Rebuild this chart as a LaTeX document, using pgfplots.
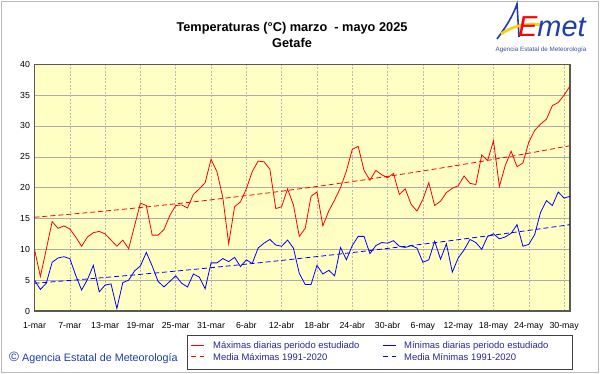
\documentclass[border=0pt]{standalone}
\usepackage{fontspec}
\setmainfont{Liberation Sans}
\newfontfamily\legfont[Color=282896]{Liberation Sans}
\usepackage{pgfplots}
\usepackage{pgfplotstable}
\pgfplotsset{compat=1.18}
\definecolor{bgyel}{RGB}{255,255,196}
\definecolor{aeblue}{RGB}{30,60,170}
\definecolor{aeyel}{RGB}{250,210,20}

\pgfplotstableread{
d tmax tmin
0 10.0 5.0
1 5.6 3.5
2 10.0 4.5
3 14.5 7.9
4 13.4 8.6
5 13.8 8.8
6 13.3 8.5
7 12.0 5.8
8 10.5 3.4
9 12.0 5.1
10 12.7 7.4
11 12.9 3.1
12 12.5 4.2
13 11.5 4.4
14 10.5 0.4
15 11.5 4.6
16 10.1 5.0
17 13.8 6.5
18 17.5 7.3
19 17.1 9.5
20 12.3 7.3
21 12.3 4.8
22 13.2 3.9
23 15.5 4.8
24 17.1 5.7
25 17.2 4.5
26 16.7 3.9
27 18.9 6.0
28 19.8 5.5
29 20.8 3.6
30 24.6 7.8
31 22.6 7.8
32 18.4 8.5
33 10.9 8.0
34 16.9 8.7
35 17.7 7.2
36 19.8 8.3
37 22.6 7.7
38 24.3 10.2
39 24.2 11.0
40 23.0 11.6
41 16.6 10.7
42 16.9 10.5
43 19.8 11.5
44 17.2 10.2
45 12.1 6.1
46 13.4 4.3
47 18.6 4.3
48 19.3 7.4
49 13.8 6.0
50 16.2 6.6
51 18.0 5.7
52 20.0 10.3
53 22.7 8.3
54 26.2 10.6
55 26.7 12.1
56 22.8 12.1
57 21.2 9.3
58 22.8 10.6
59 22.1 11.1
60 21.6 11.0
61 22.3 11.4
62 18.9 10.5
63 19.8 10.3
64 17.3 10.6
65 16.2 10.2
66 18.1 7.9
67 20.8 8.3
68 17.1 11.3
69 17.8 8.4
70 19.2 10.9
71 19.9 6.3
72 20.3 8.6
73 21.9 9.9
74 20.7 11.6
75 20.5 11.1
76 25.3 10.0
77 24.4 12.1
78 27.6 12.5
79 20.2 11.7
80 23.6 12.0
81 25.9 12.6
82 23.4 14.0
83 24.0 10.5
84 27.4 10.8
85 29.3 12.4
86 30.3 16.0
87 31.1 17.9
88 33.3 17.1
89 33.8 19.3
90 35.0 18.3
91 36.5 18.6
}\daily

\pgfplotstableread{
d nmax nmin
0 15.20 4.50
7 15.77 5.03
14 16.39 5.60
21 17.07 6.20
28 17.80 6.83
35 18.59 7.50
42 19.42 8.20
49 20.32 8.93
56 21.26 9.69
63 22.26 10.49
70 23.32 11.32
77 24.42 12.18
84 25.58 13.07
91 26.80 14.00
}\normals

\begin{document}
\begin{tikzpicture}
\fill[white] (0bp,0bp) rectangle (601bp,374bp);
\draw[gray!55, line width=1.2bp] (1.5bp,1.5bp) rectangle (598.5bp,372.5bp);
\begin{axis}[
  at={(34.5bp,63bp)}, anchor=south west,
  width=535.5bp, height=246.7bp, scale only axis,
  xmin=0, xmax=91, ymin=0, ymax=40,
  xtick={0,6,...,90},
  xticklabels={1-mar,7-mar,13-mar,19-mar,25-mar,31-mar,6-abr,12-abr,18-abr,24-abr,30-abr,6-may,12-may,18-may,24-may,30-may},
  ytick={0,5,...,40},
  grid=major,
  x grid style={gray!55, dash pattern=on 2bp off 1.5bp, line width=0.6bp},
  y grid style={gray!65, line width=0.6bp},
  axis background/.style={fill=bgyel},
  axis line style={draw=black!65, line width=1.2bp},
  major tick length=0pt,
  tick label style={font=\fontsize{8.8}{10}\selectfont},
  /pgf/number format/assume math mode=true,
  xticklabel style={yshift=-7.5bp},
  yticklabel style={xshift=-1bp},
]
\addplot[draw=red, line width=0.8bp] table[x=d,y=tmax]{\daily};
\addplot[draw=blue, line width=0.8bp] table[x=d,y=tmin]{\daily};
\addplot[draw=red, line width=0.8bp, dash pattern=on 5bp off 3bp] table[x=d,y=nmax]{\normals};
\addplot[draw=blue, line width=0.8bp, dash pattern=on 5bp off 3bp] table[x=d,y=nmin]{\normals};
\end{axis}
% legend (drawn as a box below the axis)
\draw[black!75, line width=0.6bp] (187bp,5bp) rectangle (572bp,39bp);
\draw[red, line width=1bp] (191bp,28bp) -- (204bp,28bp);
\draw[blue, line width=1bp] (383bp,28bp) -- (396bp,28bp);
\draw[red, line width=1bp, dash pattern=on 4.5bp off 4bp] (191bp,17bp) -- (204bp,17bp);
\draw[blue, line width=1bp, dash pattern=on 4.5bp off 4bp] (383bp,17bp) -- (396bp,17bp);
\node[anchor=west, inner sep=0pt, font=\legfont\fontsize{9.5}{11}\selectfont] at (213bp,28bp) {Máximas diarias periodo estudiado};
\node[anchor=west, inner sep=0pt, font=\legfont\fontsize{9.5}{11}\selectfont] at (404bp,28bp) {Mínimas diarias periodo estudiado};
\node[anchor=west, inner sep=0pt, font=\legfont\fontsize{9.5}{11}\selectfont] at (213bp,17bp) {Media Máximas 1991-2020};
\node[anchor=west, inner sep=0pt, font=\legfont\fontsize{9.5}{11}\selectfont] at (404bp,17bp) {Media Mínimas 1991-2020};
% titles
\node[font=\bfseries\fontsize{12.8}{14}\selectfont] at (292bp,346bp) {Temperaturas (°C) marzo\ \ - mayo 2025};
\node[font=\bfseries\fontsize{12.8}{14}\selectfont] at (292bp,331bp) {Getafe};
% copyright
\node[anchor=west, text=aeblue, font=\fontsize{10.8}{12}\selectfont, inner sep=0pt] at (9bp,16bp) {{\fontsize{13.5}{13.5}\selectfont ©}\ Agencia Estatal de Meteorología};
% logo
\draw[aeblue, line width=1.6bp] (497bp,335bp) .. controls (505bp,346bp) and (512bp,356bp) .. (517bp,370bp) -- (519bp,337bp);
\draw[aeyel, line width=2.8bp] (501bp,340bp) .. controls (514bp,349bp) and (528bp,351bp) .. (542bp,349bp);
\node[anchor=base west, inner sep=0pt, font=\itshape\fontsize{29}{29}\selectfont] at (518bp,337bp) {\textcolor{red}{E}\textcolor{aeblue}{met}};
\node[text=aeblue!70!gray, font=\fontsize{6.3}{7}\selectfont, inner sep=0pt] at (541bp,324bp) {Agencia Estatal de Meteorología};
\end{tikzpicture}
\end{document}
